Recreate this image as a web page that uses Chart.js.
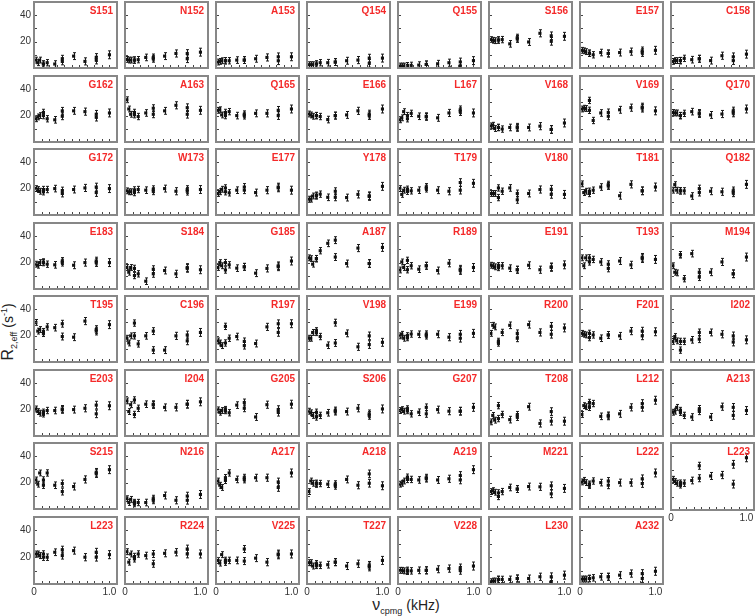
<!DOCTYPE html>
<html lang="en">
<head>
    <meta charset="UTF-8">
    <title>R2,eff relaxation dispersion profiles</title>
    <script src="https://cdn.jsdelivr.net/npm/chart.js"></script>
    <style>
        body {
            margin: 0;
            background: #ffffff;
            font-family: Arial, 'Liberation Sans', sans-serif;
        }
        #grid {
            position: relative;
            width: 756px;
            height: 616px;
            overflow: hidden;
        }
        #grid canvas {
            position: absolute;
        }
        .axis-title {
            position: absolute;
            white-space: nowrap;
            color: #222;
            font-size: 14px;
            transform: translate(-50%, -50%);
        }
        .axis-title.y {
            left: 9px;
            top: 332px;
            transform: translate(-50%, -50%) rotate(-90deg);
        }
        .axis-title.x {
            left: 406px;
            top: 606px;
        }
        .axis-title sub, .axis-title sup {
            font-size: 9px;
        }
        .big {
            font-size: 16px;
        }
    </style>
</head>
<body>
    <div id="grid">
        <div class="axis-title y"><span class="big">R</span><sub>2,eff</sub> (s<sup>-1</sup>)</div>
        <div class="axis-title x"><span class="big">&nu;</span><sub>cpmg</sub> (kHz)</div>
    </div>

    <script>
        // residue shown in each panel, row by row
        const residues = [
            'S151', 'N152', 'A153', 'Q154', 'Q155', 'S156', 'E157', 'C158',
            'G162', 'A163', 'Q165', 'E166', 'L167', 'V168', 'V169', 'Q170',
            'G172', 'W173', 'E177', 'Y178', 'T179', 'V180', 'T181', 'Q182',
            'E183', 'S184', 'G185', 'A187', 'R189', 'E191', 'T193', 'M194',
            'T195', 'C196', 'R197', 'V198', 'E199', 'R200', 'F201', 'I202',
            'E203', 'I204', 'G205', 'S206', 'G207', 'T208', 'L212', 'A213',
            'S215', 'N216', 'A217', 'A218', 'A219', 'M221', 'L222', 'L223',
            'L223', 'R224', 'V225', 'T227', 'V228', 'L230', 'A232'
        ];

        // CPMG frequencies (kHz), repeats at 0.125, 0.375 and 0.825
        const nuCpmg = [0.025, 0.05, 0.075, 0.125, 0.125, 0.175, 0.275, 0.375, 0.375, 0.525, 0.675, 0.825, 0.825, 1.0];
        // error bar half-height (s-1) per point
        const r2Err = [2.2, 2.2, 2.2, 2.4, 2.4, 2.4, 2.5, 2.6, 2.6, 2.6, 2.7, 2.9, 2.9, 3.0];

        const xTickMarks = [0.1, 0.2, 0.3, 0.4, 0.5, 0.6, 0.7, 0.8, 0.9, 1.0];
        const yTickMarks = [10, 20, 30, 40];
        const xTickLabels = [0, 1];
        const yTickLabels = [20, 40];

        // R2,eff (s-1), one row of panels per array
        const r2Row1 = [
            [6, 4, 6, 3, 3, 4, 3, 5, 7, 9, 5, 6, 8, 10],
            [6.5, 6, 6, 6, 6, 6.3, 8, 7, 8, 9, 11, 7, 11, 12],
            [4.5, 5, 5.5, 5.5, 5.5, 5.5, 6, 6, 6, 7, 8, 5.5, 8.5, 8.5],
            [2.5, 2.5, 2.5, 3, 3, 4, 4, 4.5, 4.5, 5.5, 6, 3.5, 7.5, 7.5],
            [1.5, 1.5, 1.5, 1.7, 1.7, 2, 2.2, 2.7, 2.7, 3.2, 4, 1.7, 4.6, 5.6],
            [21.5, 21, 20.7, 21.2, 21.2, 21.5, 18.3, 22, 23, 19.7, 26.3, 20.2, 24.4, 24],
            [13.4, 13, 12.4, 11.2, 11.2, 10, 11.7, 11, 11, 11.7, 12.4, 11.7, 13, 13.4],
            [5, 5.6, 5.6, 5.6, 5.6, 7.3, 6.3, 7, 7, 5.6, 9.3, 5.6, 8.5, 10.5]
        ];
        const r2Row2 = [
            [17.6, 19, 20, 20, 22.4, 17.6, 16.8, 19.5, 23.6, 23.6, 23, 18.8, 21, 22],
            [32, 25, 21, 20.7, 22.4, 19.3, 22, 21, 25.6, 23.6, 27.8, 21, 26, 24],
            [24, 24.4, 20.5, 20, 22.4, 23, 20, 20, 21, 21.7, 21.7, 20, 24, 25],
            [21.2, 20.5, 19.5, 20, 20, 19.3, 17, 20, 20, 20.5, 23.6, 20, 21.2, 25],
            [16.8, 18.3, 23, 17.6, 20, 21.7, 19.5, 19.5, 19, 18.3, 22, 23, 24.4, 22],
            [12.2, 12.7, 10.2, 11, 11, 9.8, 11, 10.7, 11.5, 11, 12, 9.5, 9.5, 14.4],
            [25, 25.6, 25.4, 24, 31.5, 16.3, 22, 19.5, 22.4, 24.4, 26, 25.6, 26.5, 23.6],
            [22.4, 22, 22, 20, 20, 21.7, 23, 21.2, 22, 20.5, 21.2, 22, 23.5, 25]
        ];
        const r2Row3 = [
            [20, 19.3, 18, 17.6, 19.3, 19.3, 20, 16.3, 18.5, 19.3, 20.5, 17, 21.2, 20],
            [18.3, 17.6, 17.6, 17, 19, 19.3, 18.8, 18, 19.5, 20, 18, 18, 19.3, 19.3],
            [16.3, 17.6, 19.5, 17.6, 20.5, 16.8, 18.8, 18.8, 21.2, 17, 18.8, 20.5, 21.2, 18.8],
            [12, 12, 14.4, 14.4, 15, 15.8, 13.4, 13.4, 18, 13.2, 15.6, 14, 14.6, 21.7],
            [20, 15.6, 18.8, 18, 19.5, 18.3, 18.8, 20, 21.2, 18.8, 18, 18.8, 24.6, 24],
            [16.3, 16.3, 16.3, 13.2, 20.5, 18, 20.5, 11.5, 16.3, 16.3, 19.3, 15.6, 19.5, 15.6],
            [23.6, 17, 18, 16.3, 18, 18.8, 21.2, 22, 23, 14.6, 23.2, 18.3, 18.3, 21.2],
            [18.8, 23, 18.8, 18.3, 18.3, 18.3, 14.4, 17, 20, 18, 17.6, 16.8, 18.3, 23.2]
        ];
        const r2Row4 = [
            [18.8, 18, 20, 20.5, 20, 18.8, 18.3, 20, 21.2, 18, 20, 20, 21.2, 20],
            [16.3, 12.7, 16.3, 10.2, 15.6, 11.5, 5.9, 11.5, 15, 14, 11.5, 15.6, 16.3, 14.6],
            [16.3, 20, 17.6, 14.4, 20, 18.3, 15.8, 16.8, 16.8, 12, 15.6, 16.8, 17.6, 21.2],
            [23.6, 23, 18.8, 23, 23, 29, 34.6, 24.2, 37, 19.3, 31, 19.3, 19.3, 31.5],
            [14.4, 20.5, 16.3, 14.6, 21.7, 17.6, 15, 17.6, 17.6, 14, 19.5, 14, 15, 16.3],
            [18, 17.6, 16.8, 16.3, 17.6, 17.6, 15.8, 14.6, 14.6, 18, 14.6, 16.3, 16.8, 18.3],
            [23.6, 17.6, 23.6, 20.5, 23.6, 22.4, 20.5, 15.6, 18.8, 21.2, 18.3, 23, 24, 22.4],
            [17.6, 12.7, 12.2, 26, 26, 7.8, 26.8, 9, 12.7, 12.7, 20.5, 11.5, 11.5, 24.2]
        ];
        const r2Row5 = [
            [30, 23.4, 24.6, 21.7, 23, 26.6, 26, 19.3, 29, 18.8, 31, 23.4, 24.6, 28.3],
            [18, 14.4, 19.8, 19.8, 29.5, 13.7, 19.8, 9, 23.4, 9, 19.8, 16, 20.5, 22.4],
            [16, 14.4, 12.4, 14.4, 27, 18, 19.3, 12.4, 15.6, 14, 26.6, 22.4, 29, 29],
            [18, 18, 22.4, 22.4, 23.6, 19.3, 12.7, 14.4, 29.8, 21.7, 11.5, 13.2, 19.8, 14.9],
            [19.8, 21, 18, 18.5, 19.8, 21.2, 21, 20, 21, 21, 18.8, 18, 21, 21.7],
            [21.7, 27.8, 26.6, 14.4, 15.6, 22.4, 27.8, 18, 21.7, 28.3, 22.4, 21, 27, 25.8],
            [21.7, 21, 20.5, 18.5, 21.7, 20.5, 18, 20.5, 20.5, 19.8, 23.4, 19.8, 23.4, 22.9],
            [15.6, 19.3, 16, 9, 15.6, 15.6, 16.8, 17.3, 22.4, 22.4, 21, 15.1, 19.8, 16.8]
        ];
        const r2Row6 = [
            [20.5, 18.5, 17.3, 16.8, 18, 19.3, 19.3, 19.8, 20.5, 20, 21, 16.8, 23.4, 22.9],
            [26.6, 18.5, 23.7, 16.3, 27.3, 21, 24.1, 23.5, 24.1, 21.7, 21.7, 24.1, 24.1, 25.9],
            [19.8, 18, 19.3, 19.3, 20, 17.6, 23.4, 21, 25.4, 14.4, 23.7, 18, 20, 24.1],
            [18.8, 17.6, 15.6, 14.4, 18, 15.6, 17.6, 18.5, 19.3, 18.5, 21, 15.6, 16.8, 20.5],
            [19.3, 20, 18.8, 19.3, 20.5, 16.8, 18, 16.8, 21.7, 20, 18.8, 18.8, 18.8, 21.7],
            [10.7, 15.6, 12, 13.2, 23, 16.3, 12.4, 14.4, 16, 22.2, 9.5, 11.2, 18.5, 11.2],
            [16.3, 23, 22.2, 21.7, 25.4, 24.6, 14.9, 14.9, 15.6, 16.8, 21.7, 21.7, 24.6, 27.1],
            [18, 18.8, 21.7, 18, 19.3, 15.6, 14.4, 18.8, 20.5, 14.4, 22.2, 15.6, 21.7, 19.3]
        ];
        const r2Row7 = [
            [22, 18.8, 27.3, 18, 22, 27.3, 18, 13.2, 19.3, 17, 22.4, 26.8, 27.8, 29.8],
            [7.8, 4.9, 7.3, 4.1, 4.9, 4.9, 4.9, 6.6, 7.8, 10.2, 6.6, 6.6, 9.8, 11],
            [21.2, 18, 16.3, 21.7, 23.7, 27.3, 22.4, 22.4, 23.7, 23.7, 23.7, 16.3, 20.5, 27.3],
            [13.2, 21.2, 19.5, 19.5, 18.8, 19.3, 18.8, 17.6, 18.8, 22.4, 18, 19.5, 26.6, 17.6],
            [18.8, 19.5, 21.2, 22.4, 24.1, 22.4, 22, 23, 23.7, 22, 22.9, 22, 25.4, 29.8],
            [13.2, 13.9, 12.7, 9.5, 12.2, 13.2, 16.3, 15.1, 15.1, 17, 16.8, 11.5, 17.6, 15.6],
            [20.5, 21.7, 20, 18, 18.8, 21.2, 20, 18, 21.2, 20, 20, 19.3, 22.9, 27.3],
            [22.9, 21.2, 20, 18.8, 20, 20, 22, 23.7, 33, 25.4, 26.1, 19.3, 34.1, 39]
        ];
        const r2Row8 = [
            [22.4, 22.4, 21.2, 22.4, 20, 20, 23.7, 21.2, 25.6, 24.9, 20, 20, 23.7, 21.9],
            [24.1, 16.3, 22.4, 18.8, 20.5, 22.4, 21.2, 15.1, 22.4, 22.9, 23.7, 22.4, 26.1, 22.4],
            [17.6, 15.6, 21.9, 16.3, 17.6, 17.6, 17.6, 17.1, 26.1, 19.3, 16.3, 21.7, 22.4, 22.4],
            [15.9, 15.9, 13.4, 13.9, 15.1, 13.9, 14.4, 16.3, 16.3, 13.4, 15.1, 12.7, 13.9, 17.6],
            [10.2, 10.2, 9.8, 9.5, 10.2, 9.8, 10.2, 10.2, 10.2, 11, 11.5, 10.2, 12, 13.4],
            [1.7, 2.2, 2.2, 3.4, 3.4, 3.4, 3.4, 4.1, 4.1, 4.1, 5.4, 1.7, 5.4, 6.6],
            [3.7, 3.7, 3.7, 4.1, 4.1, 4.6, 5.4, 5.4, 5.4, 6.6, 7.8, 4.1, 7.8, 9.5]
        ];
        const r2eff = [].concat(r2Row1, r2Row2, r2Row3, r2Row4, r2Row5, r2Row6, r2Row7, r2Row8);

        // panel grid geometry (px)
        const COLS = 8;
        const panelW = 84, panelH = 68;
        const left0 = 34, pitchX = 91;
        const top0 = 1, pitchY = 73.5;

        // frame, inner ticks, error bars and residue label for each panel
        const panelDecor = {
            id: 'panelDecor',
            beforeDatasetsDraw(chart) {
                const { ctx, chartArea: a, scales: { x, y } } = chart;
                ctx.save();
                ctx.beginPath();
                ctx.rect(a.left, a.top, a.width, a.height);
                ctx.clip();
                ctx.strokeStyle = '#1a1a1a';
                ctx.lineWidth = 1;
                chart.data.datasets[0].data.forEach((p, k) => {
                    const px = Math.round(x.getPixelForValue(p.x)) + 0.5;
                    const lo = y.getPixelForValue(p.y - r2Err[k]);
                    const hi = y.getPixelForValue(p.y + r2Err[k]);
                    ctx.beginPath();
                    ctx.moveTo(px, lo);
                    ctx.lineTo(px, hi);
                    ctx.moveTo(px - 1.5, lo);
                    ctx.lineTo(px + 1.5, lo);
                    ctx.moveTo(px - 1.5, hi);
                    ctx.lineTo(px + 1.5, hi);
                    ctx.stroke();
                });
                ctx.restore();
            },
            afterDraw(chart, args, opts) {
                const { ctx, chartArea: a, scales: { x, y } } = chart;
                ctx.save();
                // inner tick marks
                ctx.strokeStyle = '#444';
                ctx.lineWidth = 1;
                ctx.beginPath();
                yTickMarks.forEach(v => {
                    const py = Math.round(y.getPixelForValue(v)) + 0.5;
                    ctx.moveTo(a.left, py);
                    ctx.lineTo(a.left + 3, py);
                });
                xTickMarks.forEach(v => {
                    const px = Math.round(x.getPixelForValue(v)) + 0.5;
                    ctx.moveTo(px, a.bottom);
                    ctx.lineTo(px, a.bottom - 3);
                });
                ctx.stroke();
                // frame
                ctx.strokeStyle = '#878787';
                ctx.lineWidth = 2;
                ctx.strokeRect(a.left, a.top, a.width, a.height);
                // residue name
                ctx.fillStyle = '#f42a2a';
                ctx.font = 'bold 10px Arial, "Liberation Sans", sans-serif';
                ctx.textAlign = 'right';
                ctx.textBaseline = 'top';
                ctx.fillText(opts.name, a.right - 4, a.top + 4);
                ctx.restore();
            }
        };

        // keep every panel's plot area the same size, whatever labels it carries
        function fixScaleSize(s, w, h) {
            if (s.isHorizontal()) s.height = h; else s.width = w;
            s.paddingLeft = 0;
            s.paddingRight = 0;
            s.paddingTop = 0;
            s.paddingBottom = 0;
        }

        const grid = document.getElementById('grid');
        const tickFont = { family: 'Arial, "Liberation Sans", sans-serif', size: 10 };

        residues.forEach((name, i) => {
            const col = i % COLS;
            const row = Math.floor(i / COLS);
            const firstCol = col === 0;
            const showX = row === 7 || (row === 6 && col === 7);

            const padL = firstCol ? 2 : 6;
            const axisW = firstCol ? 32 : 0;
            const padR = 3, padT = 3;
            const padB = showX ? 0 : 3;
            const axisH = showX ? 16 : 0;

            const canvas = document.createElement('canvas');
            canvas.width = padL + axisW + panelW + padR;
            canvas.height = padT + panelH + padB + axisH;
            canvas.style.left = (left0 + pitchX * col - padL - axisW) + 'px';
            canvas.style.top = (Math.round(top0 + pitchY * row) - padT) + 'px';
            grid.appendChild(canvas);

            new Chart(canvas, {
                type: 'scatter',
                data: {
                    datasets: [{
                        data: nuCpmg.map((x, k) => ({ x: x, y: r2eff[i][k] })),
                        pointStyle: 'rect',
                        pointRadius: 2.2,
                        backgroundColor: '#111',
                        borderColor: '#111',
                        borderWidth: 0
                    }]
                },
                options: {
                    responsive: false,
                    animation: false,
                    events: [],
                    layout: { padding: { left: padL, right: padR, top: padT, bottom: padB } },
                    plugins: {
                        legend: { display: false },
                        tooltip: { enabled: false },
                        panelDecor: { name: name }
                    },
                    scales: {
                        x: {
                            type: 'linear',
                            min: 0,
                            max: 1.1,
                            grid: { display: false, drawTicks: false },
                            border: { display: false },
                            ticks: {
                                display: showX,
                                padding: 2,
                                color: '#333',
                                font: tickFont,
                                maxRotation: 0,
                                autoSkip: false,
                                callback: v => v === 0 ? '0' : v.toFixed(1)
                            },
                            afterBuildTicks: s => { s.ticks = xTickLabels.map(v => ({ value: v })); },
                            afterFit: s => fixScaleSize(s, 0, axisH)
                        },
                        y: {
                            type: 'linear',
                            min: 0,
                            max: 50,
                            grid: { display: false, drawTicks: false },
                            border: { display: false },
                            ticks: {
                                display: firstCol,
                                padding: 3,
                                color: '#333',
                                font: tickFont,
                                autoSkip: false,
                                callback: v => String(v)
                            },
                            afterBuildTicks: s => { s.ticks = yTickLabels.map(v => ({ value: v })); },
                            afterFit: s => fixScaleSize(s, axisW, 0)
                        }
                    }
                },
                plugins: [panelDecor]
            });
        });
    </script>
</body>
</html>
